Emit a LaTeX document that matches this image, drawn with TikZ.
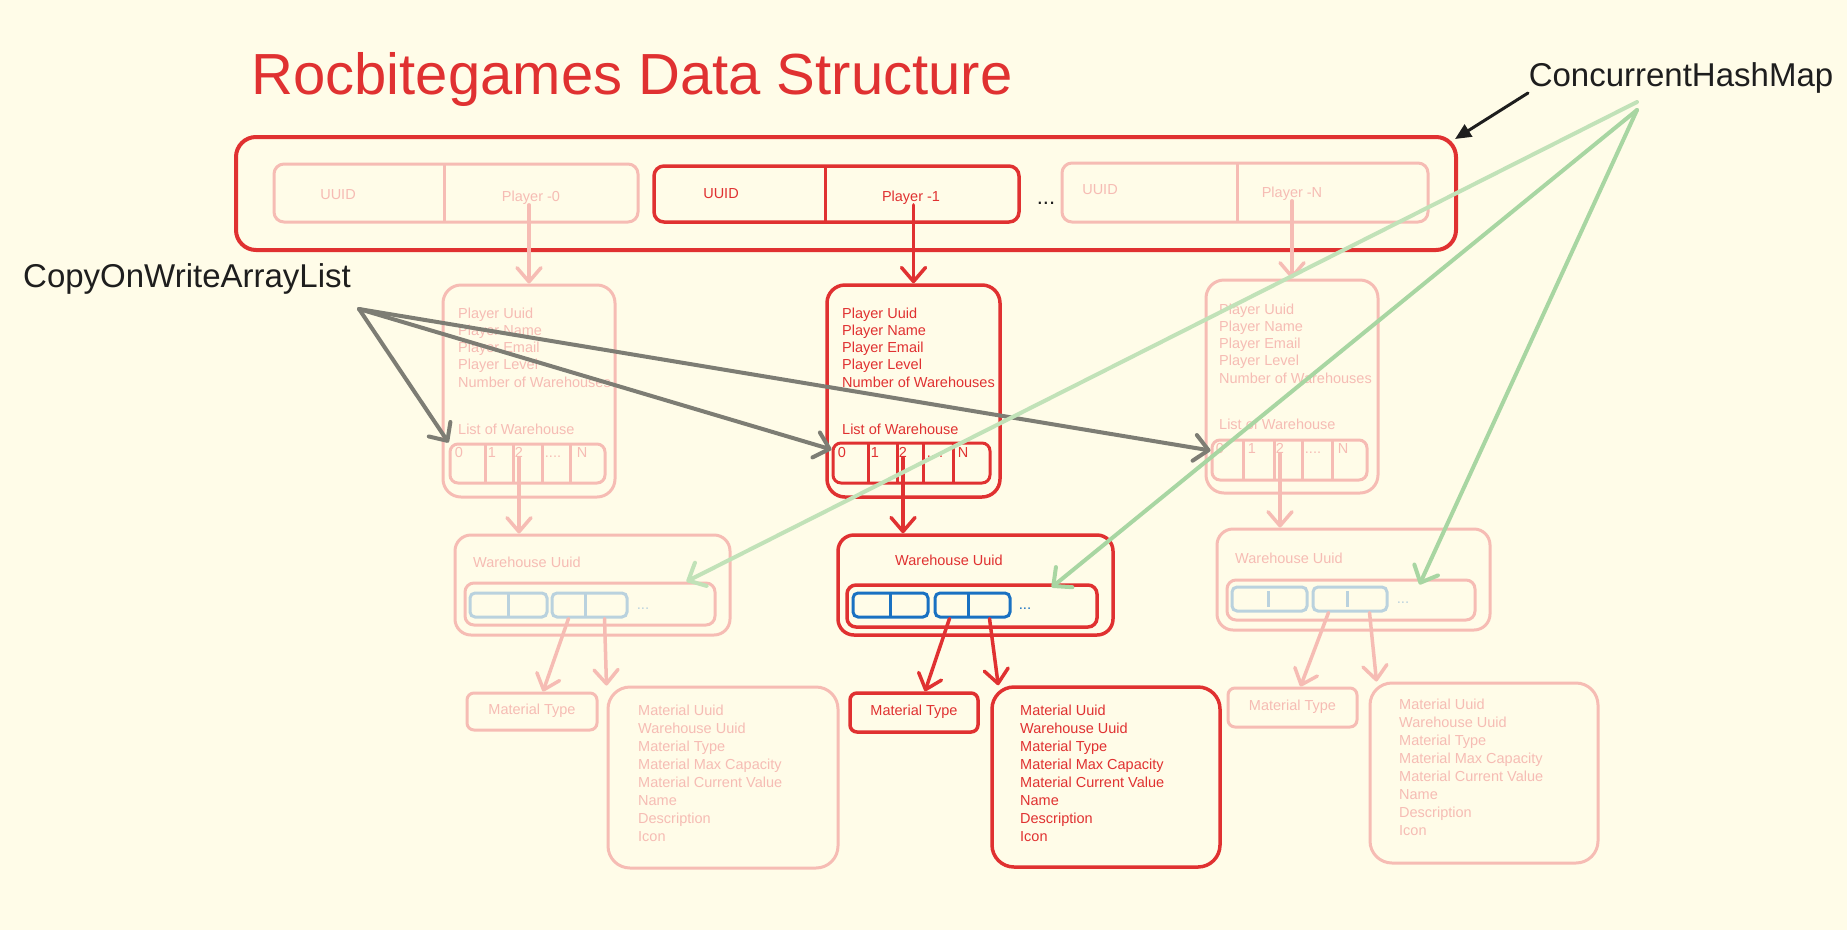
\documentclass[tikz,border=0pt]{standalone}
\usepackage{fontspec}
\setmainfont{Liberation Sans}
\usetikzlibrary{arrows.meta,calc}
\definecolor{bg}{RGB}{255,252,232}
\definecolor{exred}{RGB}{224,49,49}
\definecolor{fred}{RGB}{246,188,180}
\definecolor{exblue}{RGB}{25,113,194}
\definecolor{fblue}{RGB}{186,210,222}
\definecolor{gline}{RGB}{168,214,162}
\definecolor{glight}{RGB}{193,226,184}
\definecolor{kline}{RGB}{125,125,116}
\definecolor{ink}{RGB}{30,30,30}
\newcommand{\qdots}{....}
\tikzset{
  sbox/.style={draw=exred, line width=3.5pt, rounded corners=12pt, inner sep=0pt},
  fbox/.style={draw=fred, line width=3pt, rounded corners=12pt, inner sep=0pt},
  sblue/.style={draw=exblue, line width=3pt, rounded corners=5pt, inner sep=0pt},
  fblu/.style={draw=fblue, line width=3pt, rounded corners=5pt, inner sep=0pt},
  txt/.style={font=\fontsize{14.5}{17.25}\selectfont, inner sep=0pt},
  dtxt/.style={font=\fontsize{14.5}{18}\selectfont, inner sep=0pt},
  stxt/.style={txt, text=exred},
  ftxt/.style={txt, text=fred},
  sdiv/.style={draw=exred, line width=3pt},
  fdiv/.style={draw=fred, line width=3pt},
  sarrow/.style={draw=exred, line width=3.5pt, line cap=round, -{Straight Barb[length=14pt,width=24pt,round]}},
  farrow/.style={draw=fred, line width=3.5pt, line cap=round, -{Straight Barb[length=14pt,width=24pt,round]}},
  garrow/.style={draw=gline, line width=4pt, line cap=round, -{Straight Barb[length=14pt,width=26pt,round]}},
  glarrow/.style={draw=glight, line width=4pt, line cap=round, -{Straight Barb[length=14pt,width=26pt,round]}},
  karrow/.style={draw=kline, line width=4pt, line cap=round, -{Straight Barb[length=14pt,width=26pt,round]}},
}
\begin{document}
\begin{tikzpicture}[x=1pt,y=-1pt]
\fill[bg] (0,0) rectangle (1847,930);
\useasboundingbox (0,0) rectangle (1847,930);

% Title and labels
\node[text=exred, font=\fontsize{58}{60}\selectfont, inner sep=0pt, anchor=mid] (title) at (632,92) {Rocbitegames Data Structure};
\node[text=ink, font=\fontsize{33}{36}\selectfont, inner sep=0pt, anchor=mid] (chm) at (1681,83.5) {ConcurrentHashMap};
\node[text=ink, font=\fontsize{33}{36}\selectfont, inner sep=0pt, anchor=mid] (cow) at (187,285) {CopyOnWriteArrayList};

% Map box
\node[sbox, line width=4pt, rounded corners=20pt, minimum width=1220pt, minimum height=113pt] (hm) at (846,193.5) {};

% entry 0 (faded)
\node[fbox, rounded corners=10pt, minimum width=364pt, minimum height=58pt] (e0) at (456,193) {};
\draw[fdiv] (444,164) -- (444,222);
\node[ftxt, anchor=mid] (e0k) at (338,197) {UUID};
\node[ftxt, anchor=mid] (e0v) at (531,199) {Player -0};
% entry 1 (solid)
\node[sbox, rounded corners=10pt, minimum width=365pt, minimum height=56pt] (e1) at (836.5,194) {};
\draw[sdiv] (825,166) -- (825,222);
\node[stxt, anchor=mid] (e1k) at (721,196) {UUID};
\node[stxt, anchor=mid] (e1v) at (911,199) {Player -1};
\node[text=ink, font=\fontsize{22}{24}\selectfont, inner sep=0pt, anchor=base] (edots) at (1046,204) {...};
% entry N (faded)
\node[fbox, rounded corners=10pt, minimum width=366pt, minimum height=59pt] (eN) at (1245,192.5) {};
\draw[fdiv] (1237,163) -- (1237,222);
\node[ftxt, anchor=mid] (eNk) at (1100,192) {UUID};
\node[ftxt, anchor=mid] (eNv) at (1292,195) {Player -N};

% player boxes
\node[fbox, rounded corners=18pt, minimum width=172pt, minimum height=212pt] (p0) at (529,391) {};
\node[sbox, rounded corners=18pt, minimum width=173pt, minimum height=212pt] (p1) at (913.5,391) {};
\node[fbox, rounded corners=18pt, minimum width=172pt, minimum height=213pt] (pN) at (1292,386.5) {};

\node[ftxt, anchor=north west, align=left] (p0t) at (458,307.5) {Player Uuid\\Player Name\\Player Email\\Player Level\\Number of Warehouses};
\node[stxt, anchor=north west, align=left] (p1t) at (842,307.5) {Player Uuid\\Player Name\\Player Email\\Player Level\\Number of Warehouses};
\node[ftxt, anchor=north west, align=left] (pNt) at (1219,303.5) {Player Uuid\\Player Name\\Player Email\\Player Level\\Number of Warehouses};
\node[ftxt, anchor=mid west] (p0l) at (458,432) {List of Warehouse};
\node[stxt, anchor=mid west] (p1l) at (842,432) {List of Warehouse};
\node[ftxt, anchor=mid west] (pNl) at (1219,427) {List of Warehouse};

% arrays
\node[fbox, rounded corners=8pt, minimum width=155pt, minimum height=39pt] (a0) at (527.5,463.5) {};
\foreach \x in {485,513,542,570} \draw[fdiv] (\x,444) -- (\x,483);
\foreach \x/\t/\n in {459/0/a,492/1/b,519/2/c,553/\qdots/d,582/N/e} \node[ftxt, anchor=mid] (a0\n) at (\x,455) {\t};

\node[sbox, line width=3pt, rounded corners=8pt, minimum width=157pt, minimum height=40pt] (a1) at (911.5,463) {};
\foreach \x in {868,897,923,953} \draw[sdiv] (\x,443) -- (\x,483);
\foreach \x/\t/\n in {842/0/a,875/1/b,903/2/c,935/\qdots/d,963/N/e} \node[stxt, anchor=mid] (a1\n) at (\x,455) {\t};

\node[fbox, rounded corners=8pt, minimum width=155pt, minimum height=40pt] (aN) at (1289.5,460) {};
\foreach \x in {1243,1274,1302,1332} \draw[fdiv] (\x,440) -- (\x,480);
\foreach \x/\t/\n in {1220/0/a,1252/1/b,1280/2/c,1313/\qdots/d,1343/N/e} \node[ftxt, anchor=mid] (aN\n) at (\x,451) {\t};

% warehouse boxes
\node[fbox, rounded corners=16pt, minimum width=275pt, minimum height=100pt] (w0) at (592.5,585) {};
\node[ftxt, anchor=mid west] (w0t) at (473,565) {Warehouse Uuid};
\node[fbox, rounded corners=9pt, minimum width=250pt, minimum height=42pt] (b0) at (590,604) {};
\node[fblu, minimum width=77pt, minimum height=24pt] (c0a) at (508.5,605) {};
\node[fblu, minimum width=75pt, minimum height=24pt] (c0b) at (589.5,605) {};
\draw[fblue, line width=3pt] (508,593) -- (508,617) (585,593) -- (585,617);
\node[text=fblue, font=\fontsize{15}{18}\selectfont, inner sep=0pt, anchor=mid] (b0d) at (643,607) {...};

\node[sbox, rounded corners=16pt, minimum width=275pt, minimum height=100pt] (w1) at (975.5,585) {};
\node[stxt, anchor=mid west] (w1t) at (895,563) {Warehouse Uuid};
\node[sbox, rounded corners=9pt, minimum width=250pt, minimum height=42pt] (b1) at (972,606) {};
\node[sblue, minimum width=75pt, minimum height=24pt] (c1a) at (890.5,605) {};
\node[sblue, minimum width=75pt, minimum height=24pt] (c1b) at (972.5,605) {};
\draw[exblue, line width=3pt] (890,593) -- (890,617) (968,593) -- (968,617);
\node[text=exblue, font=\fontsize{15}{18}\selectfont, inner sep=0pt, anchor=mid] (b1d) at (1025,607) {...};

\node[fbox, rounded corners=16pt, minimum width=273pt, minimum height=101pt] (wN) at (1353.5,579.5) {};
\node[ftxt, anchor=mid west] (wNt) at (1235,561) {Warehouse Uuid};
\node[fbox, rounded corners=9pt, minimum width=248pt, minimum height=40pt] (bN) at (1351,600) {};
\node[fblu, minimum width=75pt, minimum height=24pt] (cNa) at (1269.5,599) {};
\node[fblu, minimum width=74pt, minimum height=24pt] (cNb) at (1350,599) {};
\draw[fblue, line width=3pt] (1268,591) -- (1268,607) (1347,591) -- (1347,607);
\node[text=fblue, font=\fontsize{15}{18}\selectfont, inner sep=0pt, anchor=mid] (bNd) at (1403,601) {...};

% material type boxes
\node[fbox, rounded corners=7pt, minimum width=130pt, minimum height=37pt] (mt0) at (532,711.5) {};
\node[ftxt, anchor=mid] (mt0t) at (532,712) {Material Type};
\node[sbox, rounded corners=7pt, minimum width=128pt, minimum height=39pt] (mt1) at (914,712.5) {};
\node[stxt, anchor=mid] (mt1t) at (914,713) {Material Type};
\node[fbox, rounded corners=7pt, minimum width=129pt, minimum height=39pt] (mtN) at (1292.5,707.5) {};
\node[ftxt, anchor=mid] (mtNt) at (1292.5,708) {Material Type};

% detail boxes
\node[fbox, rounded corners=22pt, minimum width=230pt, minimum height=181pt] (d0) at (723,777.5) {};
\node[sbox, rounded corners=22pt, minimum width=228pt, minimum height=180pt] (d1) at (1106,777) {};
\node[fbox, rounded corners=22pt, minimum width=228pt, minimum height=180pt] (dN) at (1484,773) {};
\node[dtxt, text=fred, anchor=north west, align=left] (d0t) at (638,704.5) {Material Uuid\\Warehouse Uuid\\Material Type\\Material Max Capacity\\Material Current Value\\Name\\Description\\Icon};
\node[dtxt, text=exred, anchor=north west, align=left] (d1t) at (1020,704.5) {Material Uuid\\Warehouse Uuid\\Material Type\\Material Max Capacity\\Material Current Value\\Name\\Description\\Icon};
\node[dtxt, text=fred, anchor=north west, align=left] (dNt) at (1399,698.5) {Material Uuid\\Warehouse Uuid\\Material Type\\Material Max Capacity\\Material Current Value\\Name\\Description\\Icon};

% red connectors
\draw[farrow] (e0v.south -| p0.north) -- (p0.north);
\draw[sarrow] (e1v.south -| p1.north) -- (p1.north);
\draw[farrow] (eNv.south -| pN.north) -- (pN.north);
\draw[farrow] (a0c.south) -- (a0c.south |- w0.north);
\draw[sarrow] (a1c.south) -- (a1c.south |- w1.north);
\draw[farrow] (aNc.south) -- (aNc.south |- wN.north);
\draw[farrow] ($(c0b.south west)+(18,0)$) -- ($(mt0.north)+(11,0)$);
\draw[farrow] ($(c0b.south east)+(-24,0)$) -- (d0.north west);
\draw[sarrow] ($(c1a.south east)+(20,0)$) -- ($(mt1.north)+(11,0)$);
\draw[sarrow] ($(c1b.south east)+(-22,0)$) -- ($(d1.north west)+(8,0)$);
\draw[farrow] ($(cNb.south west)+(17,0)$) -- ($(mtN.north)+(8,0)$);
\draw[farrow] ($(cNb.south east)+(-19,0)$) -- ($(dN.north west)+(8,0)$);

% grey connectors
\coordinate (cwo) at (359,309);
\draw[karrow] (cwo) -- (a0.north west);
\draw[karrow] (cwo) -- ($(a1.north west)+(0,8)$);
\draw[karrow] (cwo) -- ($(aN.north west)+(0,12)$);

% green connectors
\coordinate (chmo) at (1637,102);
\coordinate (chmp) at (1637,110);
\draw[glarrow] (chmo) -- ($(b0.north east)+(-30,0)$);
\draw[garrow] (chmp) -- ($(b1.north east)+(-47,4)$);
\draw[garrow] (chmp) -- ($(bN.north east)+(-57,6)$);

% black connector
\coordinate (chmb) at (1528,93);
\draw[ink, line width=3pt, line cap=round, -{Triangle[length=16pt,width=14pt]}] (chmb) -- ($(hm.north east)+(-3,4)$);
\end{tikzpicture}
\end{document}
